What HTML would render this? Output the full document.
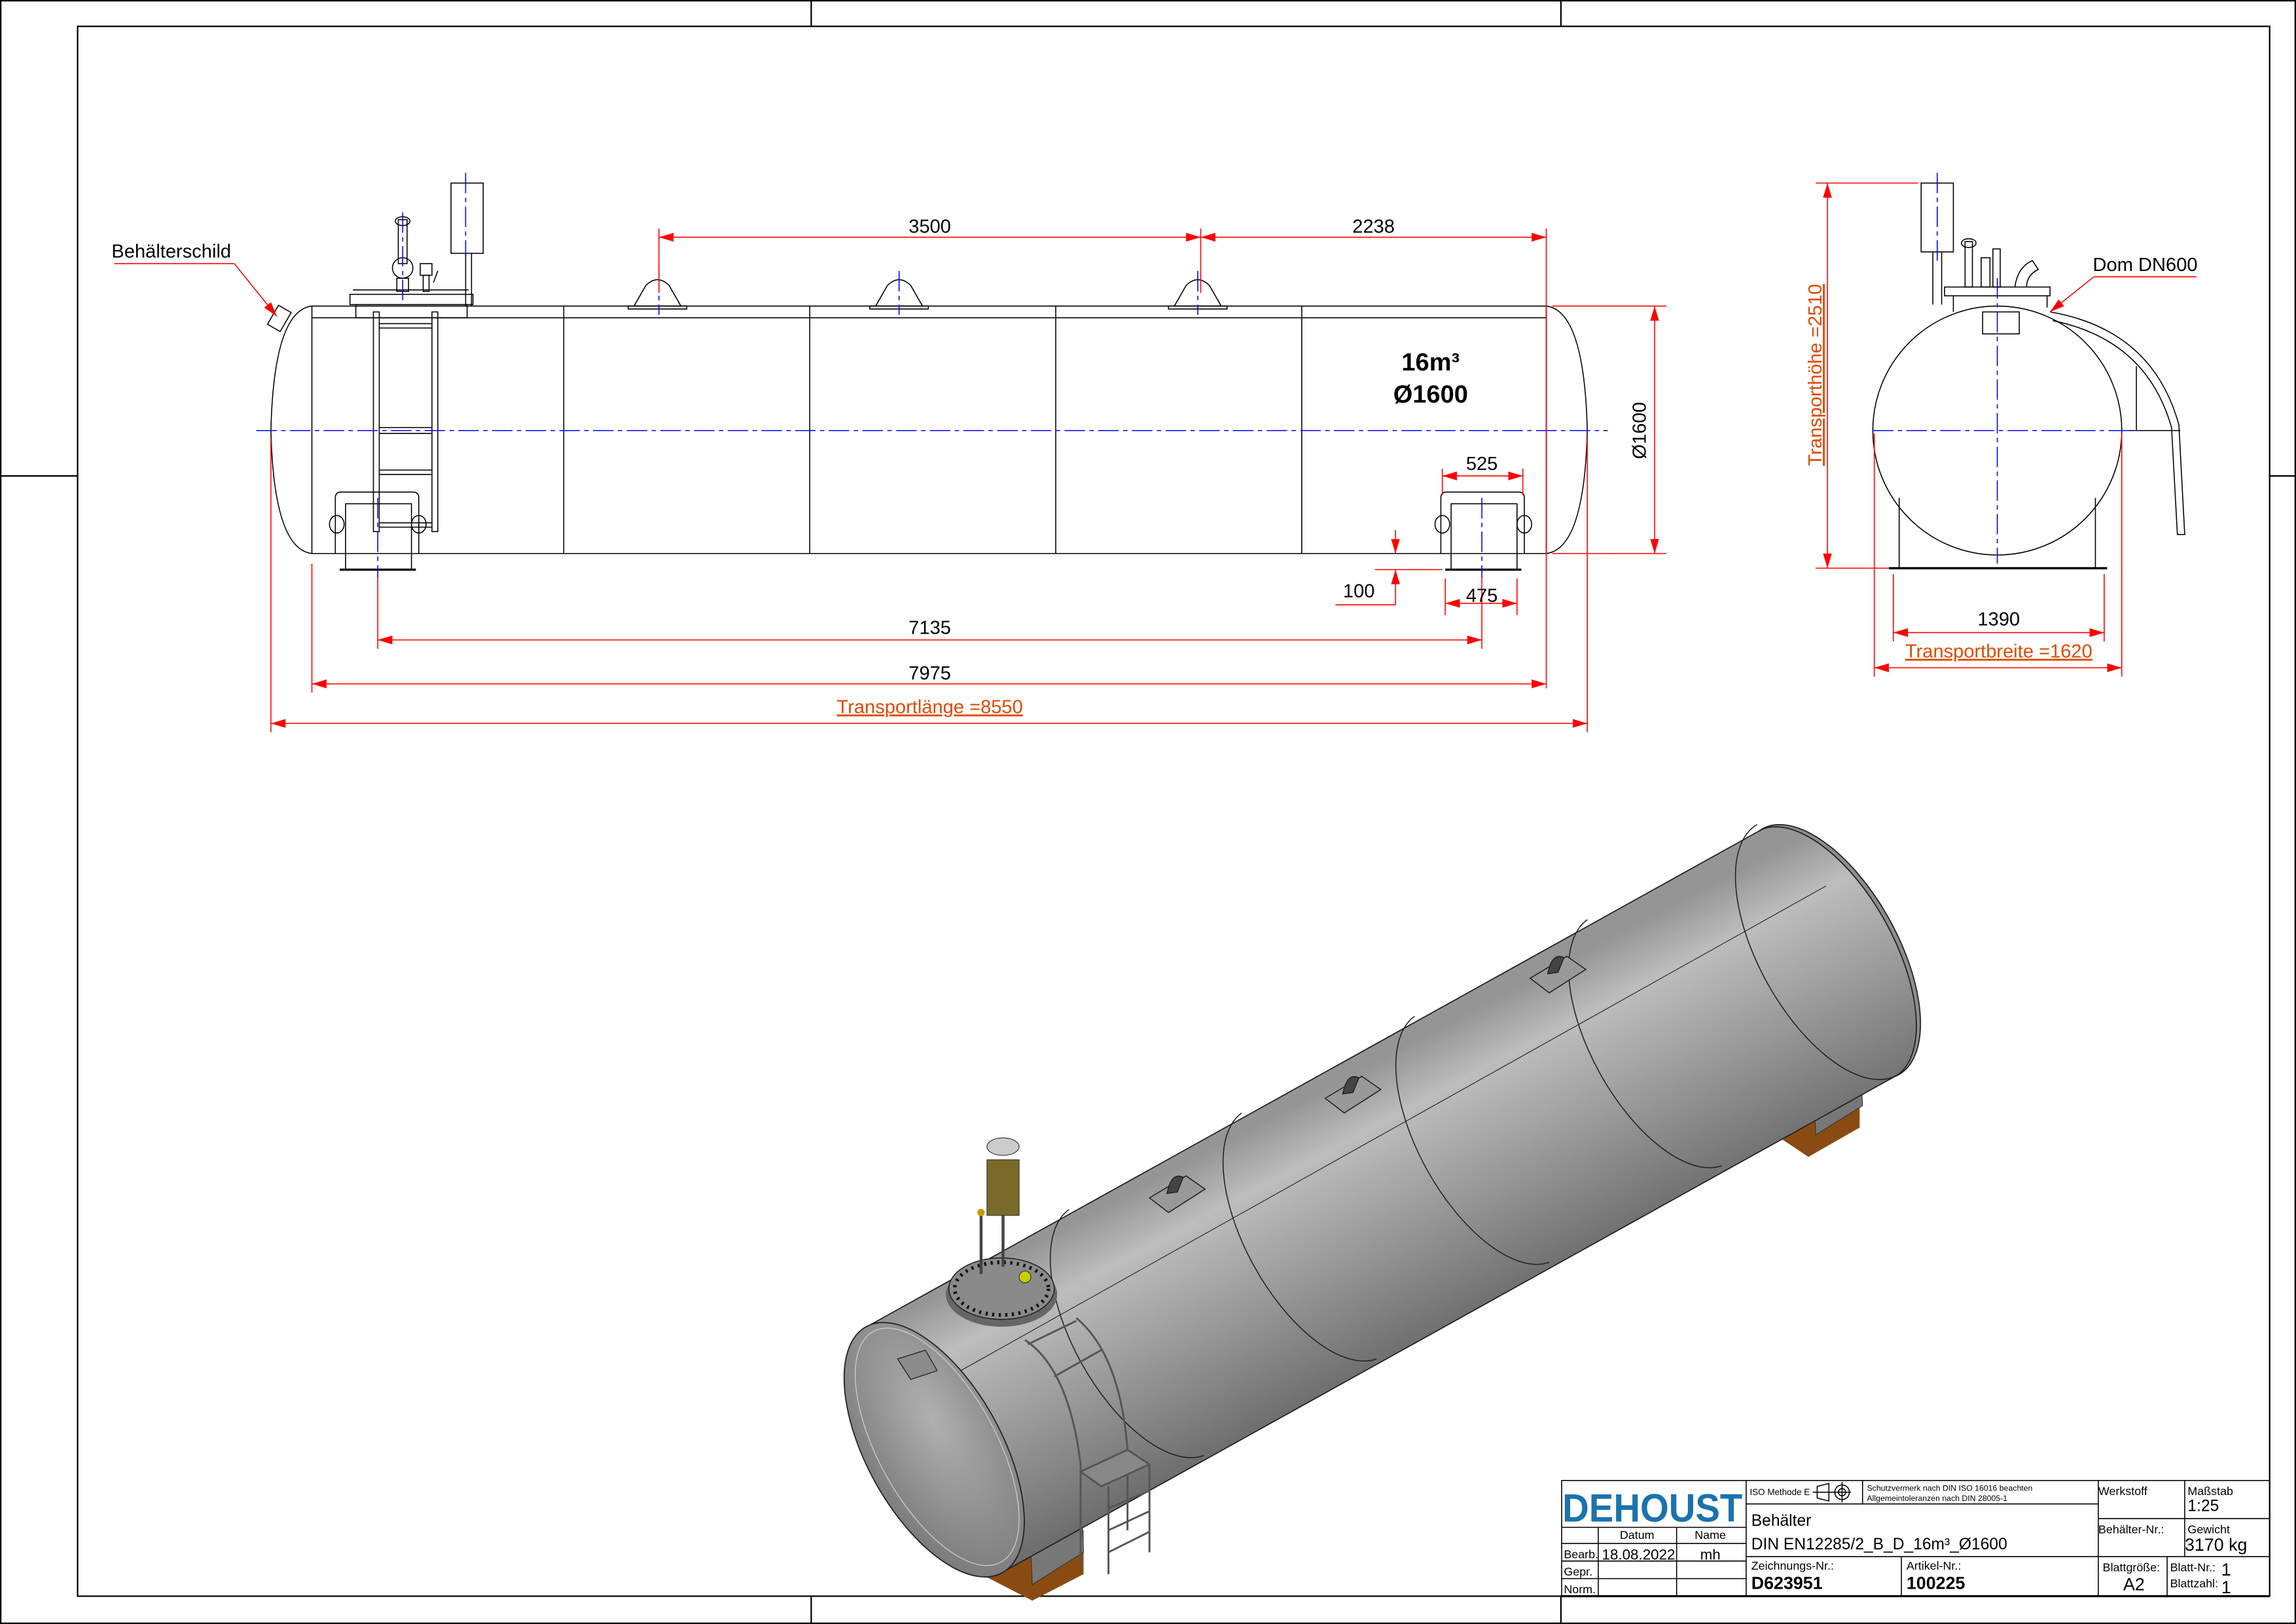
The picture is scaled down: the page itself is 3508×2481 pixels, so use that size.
<!DOCTYPE html>
<html><head><meta charset="utf-8"><style>
html,body{margin:0;padding:0;background:#fff}
svg{display:block}
</style></head><body>
<svg width="3508" height="2481" viewBox="0 0 1568 1109" preserveAspectRatio="none" xmlns="http://www.w3.org/2000/svg" font-family="Liberation Sans, sans-serif">
<defs>
<marker id="a" viewBox="0 0 10 6" refX="10" refY="3" markerWidth="10" markerHeight="6" markerUnits="userSpaceOnUse" orient="auto-start-reverse"><path d="M0,0 L10,3 L0,6 z" fill="#f00"/></marker>
<linearGradient id="cyl" gradientUnits="userSpaceOnUse" x1="600" y1="905" x2="690" y2="1075">
<stop offset="0" stop-color="#959595"/><stop offset="0.2" stop-color="#bdbdbd"/><stop offset="0.45" stop-color="#a4a4a4"/><stop offset="0.75" stop-color="#858585"/><stop offset="1" stop-color="#6a6a6a"/></linearGradient>
<radialGradient id="endg" cx="0.4" cy="0.4" r="0.7"><stop offset="0" stop-color="#b0b0b0"/><stop offset="1" stop-color="#777"/></radialGradient>
</defs>
<rect width="1568" height="1109" fill="#fff"/>
<g stroke="#000" fill="none" stroke-width="1">
<rect x="0.5" y="0.5" width="1567" height="1108"/>
<rect x="53" y="18" width="1497" height="1072"/>
<line x1="554" y1="0" x2="554" y2="18"/><line x1="1066" y1="0" x2="1066" y2="18"/>
<line x1="554" y1="1090" x2="554" y2="1109"/><line x1="1066" y1="1090" x2="1066" y2="1109"/>
<line x1="0" y1="325" x2="53" y2="325"/><line x1="1550" y1="325" x2="1568" y2="325"/>
</g>

<g stroke="#000" fill="none" stroke-width="0.7">
<path d="M213,209 L1056,209 M213,217 L1056,217 M213,378 L1056,378"/>
<path d="M213,209 Q187,212 185,294 Q187,375 213,378"/>
<path d="M1056,209 Q1082,212 1084,294 Q1082,375 1056,378"/>
<line x1="213" y1="209" x2="213" y2="378"/><line x1="1056" y1="209" x2="1056" y2="378"/>
<line x1="385" y1="209" x2="385" y2="378"/><line x1="553" y1="209" x2="553" y2="378"/>
<line x1="721" y1="209" x2="721" y2="378"/><line x1="889" y1="209" x2="889" y2="378"/>
<rect x="186" y="210" width="10" height="15" transform="rotate(30 191 217)"/>
<rect x="239" y="201" width="84" height="7"/><rect x="243" y="208" width="76" height="9"/>
<line x1="241" y1="198" x2="320" y2="198"/>
<rect x="272" y="150" width="6" height="30"/><ellipse cx="275" cy="151" rx="5" ry="3"/>
<circle cx="275" cy="183" r="7"/><rect x="271" y="190" width="8" height="9"/>
<rect x="287" y="180" width="8" height="8"/><rect x="289" y="188" width="4" height="11"/>
<path d="M296,193 l3,-8"/>
<rect x="308" y="125" width="22" height="48"/><line x1="318" y1="173" x2="318" y2="209"/><line x1="322" y1="173" x2="322" y2="209"/>
<path d="M433,209 L441,195 Q449,187 457,195 L465,209 M429,209 L469,209 L469,211 L429,211 z"/>
<path d="M598,209 L606,195 Q614,187 622,195 L630,209 M594,209 L634,209 L634,211 L594,211 z"/>
<path d="M802,209 L810,195 Q818,187 826,195 L834,209 M798,209 L838,209 L838,211 L798,211 z"/>
<rect x="255" y="213" width="4" height="150"/><rect x="295" y="213" width="4" height="150"/>
<line x1="259" y1="221" x2="295" y2="221"/><line x1="259" y1="224" x2="295" y2="224"/>
<line x1="259" y1="292" x2="295" y2="292"/><line x1="259" y1="296" x2="295" y2="296"/>
<line x1="259" y1="321" x2="295" y2="321"/><line x1="259" y1="324" x2="295" y2="324"/>
<line x1="259" y1="357" x2="295" y2="357"/><line x1="259" y1="360" x2="295" y2="360"/>
<path d="M229,378 L229,340 Q229,336 233,336 L282,336 Q286,336 286,340 L286,378"/>
<rect x="236" y="344" width="45" height="45"/><line x1="232" y1="389" x2="284" y2="389" stroke-width="1.5"/>
<ellipse cx="230" cy="358" rx="5" ry="6"/><ellipse cx="286" cy="358" rx="5" ry="6"/>
<path d="M984,378 L984,340 Q984,336 988,336 L1037,336 Q1041,336 1041,340 L1041,378"/>
<rect x="991" y="344" width="45" height="45"/><line x1="987" y1="389" x2="1039" y2="389" stroke-width="1.5"/>
<ellipse cx="985" cy="358" rx="5" ry="6"/><ellipse cx="1041" cy="358" rx="5" ry="6"/>
</g>
<g stroke="#00f" stroke-width="0.7" fill="none" stroke-dasharray="14,3,3,3">
<line x1="175" y1="294" x2="1098" y2="294"/>
<line x1="275" y1="145" x2="275" y2="208"/><line x1="318" y1="118" x2="318" y2="175"/>
<line x1="450" y1="185" x2="450" y2="215"/><line x1="614" y1="185" x2="614" y2="215"/><line x1="818" y1="185" x2="818" y2="215"/>
<line x1="258" y1="340" x2="258" y2="395"/><line x1="1012" y1="340" x2="1012" y2="395"/>
</g>
<g stroke="#f00" stroke-width="0.7" fill="none">
<line x1="450" y1="156" x2="450" y2="200"/><line x1="820" y1="156" x2="820" y2="200"/><line x1="1056" y1="156" x2="1056" y2="470"/>
<line x1="450" y1="162" x2="820" y2="162" marker-start="url(#a)" marker-end="url(#a)"/>
<line x1="820" y1="162" x2="1056" y2="162" marker-start="url(#a)" marker-end="url(#a)"/>
<line x1="1060" y1="209" x2="1138" y2="209"/><line x1="1060" y1="378" x2="1138" y2="378"/>
<line x1="1130" y1="209" x2="1130" y2="378" marker-start="url(#a)" marker-end="url(#a)"/>
<line x1="985" y1="320" x2="985" y2="338"/><line x1="1040" y1="320" x2="1040" y2="338"/>
<line x1="985" y1="325" x2="1040" y2="325" marker-start="url(#a)" marker-end="url(#a)"/>
<line x1="987" y1="395" x2="987" y2="420"/><line x1="1036" y1="395" x2="1036" y2="420"/>
<line x1="987" y1="412" x2="1036" y2="412" marker-start="url(#a)" marker-end="url(#a)"/>
<line x1="953" y1="362" x2="953" y2="378" marker-end="url(#a)"/>
<line x1="953" y1="405" x2="953" y2="389" marker-end="url(#a)"/><line x1="939" y1="389" x2="985" y2="389"/>
<line x1="912" y1="413" x2="953" y2="413"/><line x1="953" y1="405" x2="953" y2="413"/>
<line x1="258" y1="395" x2="258" y2="443"/><line x1="1012" y1="395" x2="1012" y2="443"/>
<line x1="258" y1="437" x2="1012" y2="437" marker-start="url(#a)" marker-end="url(#a)"/>
<line x1="213" y1="385" x2="213" y2="473"/>
<line x1="213" y1="467" x2="1056" y2="467" marker-start="url(#a)" marker-end="url(#a)"/>
<line x1="185" y1="300" x2="185" y2="500"/><line x1="1084" y1="300" x2="1084" y2="500"/>
<line x1="185" y1="494" x2="1084" y2="494" marker-start="url(#a)" marker-end="url(#a)"/>
<line x1="78" y1="180" x2="160" y2="180"/><line x1="160" y1="180" x2="189" y2="216" marker-end="url(#a)"/>
</g>
<g font-size="13" fill="#000" text-anchor="middle">
<text x="635" y="159">3500</text><text x="938" y="159">2238</text>
<text x="1012" y="321">525</text><text x="1012" y="411">475</text>
<text x="928" y="408">100</text>
<text x="635" y="433">7135</text><text x="635" y="464">7975</text>
<text transform="translate(1124,294) rotate(-90)">Ø1600</text>
<text x="117" y="176">Behälterschild</text>
<text x="977" y="253" font-size="17" font-weight="bold">16m³</text>
<text x="977" y="275" font-size="17" font-weight="bold">Ø1600</text>
</g>
<text x="635" y="487" font-size="13" fill="#e04a00" text-anchor="middle" text-decoration="underline">Transportlänge =8550</text>

<g stroke="#000" fill="none" stroke-width="0.7">
<circle cx="1364" cy="294" r="85"/>
<path d="M1297,340 L1297,388 M1431,340 L1431,388"/><line x1="1290" y1="388" x2="1439" y2="388" stroke-width="1.5"/>
<rect x="1312" y="125" width="22" height="47"/><line x1="1320" y1="172" x2="1320" y2="208"/><line x1="1326" y1="172" x2="1326" y2="208"/>
<rect x="1328" y="196" width="72" height="6"/><line x1="1334" y1="202" x2="1334" y2="213"/><line x1="1398" y1="202" x2="1398" y2="210"/>
<rect x="1342" y="165" width="5" height="31"/><ellipse cx="1344.5" cy="166" rx="5" ry="3"/>
<rect x="1353" y="176" width="6" height="20"/><rect x="1361" y="170" width="5" height="26"/>
<path d="M1376,196 Q1378,182 1388,178 L1392,184 Q1384,188 1384,196"/>
<rect x="1354" y="213" width="25" height="15"/>
<path d="M1400,213 Q1470,225 1488,290 L1492,365 L1487,365 L1483,292 Q1466,232 1402,219"/>
<line x1="1459" y1="250" x2="1459" y2="294"/><line x1="1449" y1="294" x2="1489" y2="294"/>
</g>
<g stroke="#00f" stroke-width="0.7" fill="none" stroke-dasharray="14,3,3,3">
<line x1="1279" y1="294" x2="1460" y2="294"/><line x1="1364" y1="190" x2="1364" y2="385"/><line x1="1323" y1="118" x2="1323" y2="180"/>
</g>
<g stroke="#f00" stroke-width="0.7" fill="none">
<line x1="1240" y1="125" x2="1310" y2="125"/><line x1="1240" y1="388" x2="1290" y2="388"/>
<line x1="1248" y1="125" x2="1248" y2="388" marker-start="url(#a)" marker-end="url(#a)"/>
<line x1="1293" y1="392" x2="1293" y2="438"/><line x1="1437" y1="392" x2="1437" y2="438"/>
<line x1="1293" y1="432" x2="1437" y2="432" marker-start="url(#a)" marker-end="url(#a)"/>
<line x1="1280" y1="296" x2="1280" y2="462"/><line x1="1449" y1="296" x2="1449" y2="462"/>
<line x1="1280" y1="456" x2="1449" y2="456" marker-start="url(#a)" marker-end="url(#a)"/>
<line x1="1430" y1="189" x2="1500" y2="189"/><line x1="1430" y1="189" x2="1400" y2="213" marker-end="url(#a)"/>
</g>
<text x="1365" y="427" font-size="13" text-anchor="middle">1390</text>
<text x="1465" y="185" font-size="13" text-anchor="middle">Dom DN600</text>
<text x="1365" y="449" font-size="13" fill="#e04a00" text-anchor="middle" text-decoration="underline">Transportbreite =1620</text>
<text transform="translate(1244,256) rotate(-90)" font-size="13" fill="#e04a00" text-anchor="middle" text-decoration="underline">Transporthöhe =2510</text>

<g>
<path d="M1205,745 L1240,722 L1270,740 L1270,770 L1235,790 L1205,770 z" fill="#8a4b12"/>
<path d="M1238,735 L1270,715 L1272,755 L1240,775 z" fill="#777" stroke="#333" stroke-width="0.5"/>
<path d="M670,1050 L705,1028 L740,1045 L740,1075 L705,1093 L670,1075 z" fill="#8a4b12"/>
<path d="M703,1040 L738,1018 L740,1060 L705,1082 z" fill="#777" stroke="#333" stroke-width="0.5"/>
<ellipse cx="1250" cy="650" rx="96" ry="46" transform="rotate(61 1250 650)" fill="#8d8d8d" stroke="#222" stroke-width="0.8"/>
<path d="M592,906 L1204,566 A96,46 61 0 1 1296,734 L684,1074 z" fill="url(#cyl)" stroke="#222" stroke-width="0.8"/>
<g fill="none" stroke="#222" stroke-width="0.7">
<path d="M730,826 A96,46 61 0 0 822,994"/>
<path d="M848,760 A96,46 61 0 0 940,928"/>
<path d="M966,694 A96,46 61 0 0 1058,862"/>
<path d="M1084,628 A96,46 61 0 0 1176,796"/>
<path d="M1200,563 A96,46 61 0 0 1296,734"/>
<line x1="640" y1="945" x2="1247" y2="605" stroke-width="0.5"/>
</g>
<g fill="#999" stroke="#222" stroke-width="0.7">
<path d="M785,818 L810,803 L823,812 L798,828 z"/><path d="M797,815 Q800,800 808,804 L804,814 z" fill="#444"/>
<path d="M905,750 L930,735 L943,744 L918,760 z"/><path d="M917,747 Q920,732 928,736 L924,746 z" fill="#444"/>
<path d="M1045,668 L1070,653 L1083,662 L1058,678 z"/><path d="M1057,665 Q1060,650 1068,654 L1064,664 z" fill="#444"/>
</g>
<ellipse cx="638" cy="990" rx="96" ry="46" transform="rotate(61 638 990)" fill="url(#endg)" stroke="#222" stroke-width="0.8"/>
<ellipse cx="640" cy="988" rx="90" ry="40" transform="rotate(61 640 988)" fill="none" stroke="#ccc" stroke-width="0.6"/>
<path d="M613,928 L632,922 L640,936 L622,942 z" fill="#8c8c8c" stroke="#222" stroke-width="0.6"/>
<ellipse cx="684" cy="884" rx="38" ry="22" fill="#666"/>
<ellipse cx="684" cy="880" rx="36" ry="21" fill="#8a8a8a" stroke="#222" stroke-width="0.7"/>
<ellipse cx="684" cy="880" rx="32" ry="18" fill="none" stroke="#111" stroke-width="2.5" stroke-dasharray="1.5,3"/>
<rect x="674" y="792" width="22" height="38" fill="#7a6a2a" stroke="#333" stroke-width="0.5"/>
<ellipse cx="685" cy="783" rx="11" ry="6" fill="#ccc" stroke="#333" stroke-width="0.5"/>
<line x1="685" y1="830" x2="685" y2="865" stroke="#444" stroke-width="2"/>
<line x1="670" y1="830" x2="670" y2="870" stroke="#444" stroke-width="2"/>
<circle cx="670" cy="828" r="2.5" fill="#c90"/>
<circle cx="700" cy="872" r="4" fill="#cc0" stroke="#333" stroke-width="0.5"/>
<g fill="none" stroke="#555" stroke-width="1.3">
<path d="M700,915 Q730,935 738,1000 L738,1070"/><path d="M735,900 Q765,925 770,990 L770,1045"/>
<line x1="702" y1="918" x2="735" y2="902"/><line x1="720" y1="940" x2="752" y2="922"/>
<path d="M738,1005 L770,990 L785,1000 L752,1015 z" fill="#888"/>
<line x1="757" y1="1015" x2="757" y2="1075"/><line x1="785" y1="1000" x2="785" y2="1060"/>
<line x1="757" y1="1030" x2="785" y2="1018"/><line x1="757" y1="1045" x2="785" y2="1032"/><line x1="757" y1="1060" x2="785" y2="1046"/>
</g>
</g>

<g stroke="#000" fill="none" stroke-width="0.7">
<rect x="1066.5" y="1011" width="483.5" height="79"/>
<line x1="1192.5" y1="1011" x2="1192.5" y2="1090"/>
<line x1="1066.5" y1="1043" x2="1192.5" y2="1043"/>
<line x1="1066.5" y1="1054" x2="1192.5" y2="1054"/>
<line x1="1066.5" y1="1066" x2="1192.5" y2="1066"/>
<line x1="1066.5" y1="1078" x2="1192.5" y2="1078"/>
<line x1="1091.5" y1="1043" x2="1091.5" y2="1090"/>
<line x1="1145" y1="1043" x2="1145" y2="1090"/>
<line x1="1192.5" y1="1027" x2="1433" y2="1027"/>
<line x1="1272" y1="1011" x2="1272" y2="1027"/>
<line x1="1192.5" y1="1063" x2="1550" y2="1063"/>
<line x1="1298.5" y1="1063" x2="1298.5" y2="1090"/>
<line x1="1433" y1="1011" x2="1433" y2="1090"/>
<line x1="1492" y1="1011" x2="1492" y2="1063"/>
<line x1="1433" y1="1037" x2="1550" y2="1037"/>
<line x1="1480" y1="1063" x2="1480" y2="1090"/>
<line x1="1066" y1="1090" x2="1550" y2="1090" stroke-width="1.5"/>
<path d="M1241,1015 L1249,1013 L1249,1025 L1241,1023 z M1238,1019 L1264,1019"/>
<circle cx="1258" cy="1019" r="5"/><circle cx="1258" cy="1019" r="2.5"/><line x1="1258" y1="1012" x2="1258" y2="1026"/>
</g>
<text x="1067" y="1039" font-size="27" font-weight="bold" fill="#1a73ac" textLength="123" lengthAdjust="spacingAndGlyphs">DEHOUST</text>
<g font-size="8" fill="#000">
<text x="1118" y="1051" text-anchor="middle">Datum</text>
<text x="1168" y="1051" text-anchor="middle">Name</text>
<text x="1068" y="1064">Bearb.</text>
<text x="1094" y="1065" font-size="10">18.08.2022</text>
<text x="1168" y="1065" font-size="10" text-anchor="middle">mh</text>
<text x="1068" y="1076">Gepr.</text>
<text x="1068" y="1088">Norm.</text>
<text x="1195" y="1021" font-size="6">ISO Methode E</text>
<text x="1275" y="1018" font-size="5.5">Schutzvermerk nach DIN ISO 16016 beachten</text>
<text x="1275" y="1025" font-size="5.5">Allgemeintoleranzen nach DIN 28005-1</text>
<text x="1196" y="1042" font-size="11">Behälter</text>
<text x="1196" y="1058" font-size="11">DIN EN12285/2_B_D_16m³_Ø1600</text>
<text x="1196" y="1072">Zeichnungs-Nr.:</text>
<text x="1196" y="1085" font-size="12" font-weight="bold">D623951</text>
<text x="1302" y="1072">Artikel-Nr.:</text>
<text x="1302" y="1085" font-size="12" font-weight="bold">100225</text>
<text x="1433" y="1021">Werkstoff</text>
<text x="1494" y="1021">Maßstab</text>
<text x="1494" y="1032" font-size="11">1:25</text>
<text x="1433" y="1047">Behälter-Nr.:</text>
<text x="1494" y="1047">Gewicht</text>
<text x="1492" y="1059" font-size="12">3170 kg</text>
<text x="1436" y="1073">Blattgröße:</text>
<text x="1450" y="1086" font-size="12">A2</text>
<text x="1482" y="1073">Blatt-Nr.:</text>
<text x="1482" y="1084">Blattzahl:</text>
<text x="1517" y="1076" font-size="12">1</text>
<text x="1517" y="1088" font-size="12">1</text>
</g>
</svg>
</body></html>
